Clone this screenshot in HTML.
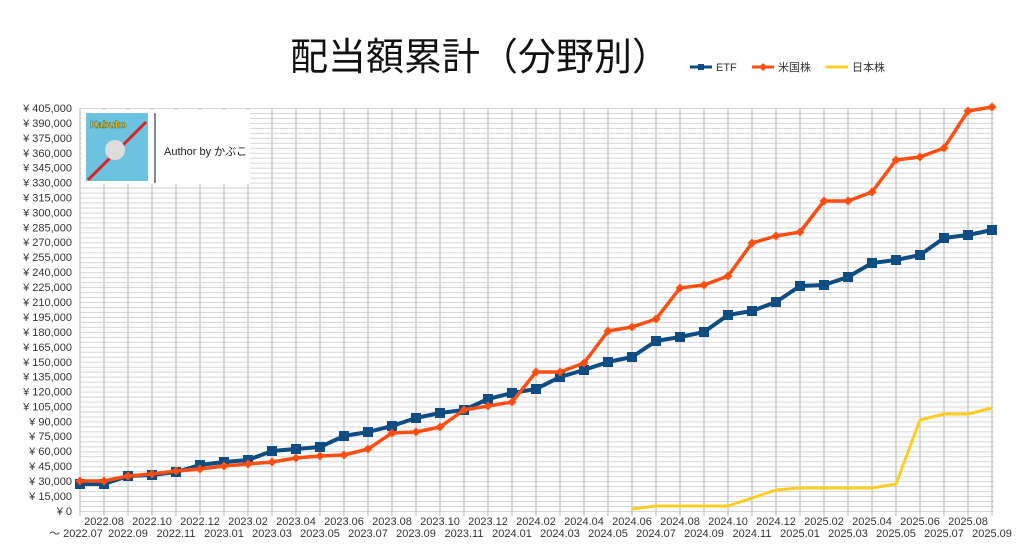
<!DOCTYPE html>
<html><head><meta charset="utf-8"><style>
body{margin:0;background:#fff;}
svg{display:block;font-family:"Liberation Sans","Noto Sans CJK JP",sans-serif;}
</style></head><body>
<svg width="1024" height="560" viewBox="0 0 1024 560">
<defs>
<pattern id="hg" patternUnits="userSpaceOnUse" x="0" y="108" width="10" height="4.975"><line x1="0" x2="10" y1="0.5" y2="0.5" stroke="#d6d6d6" stroke-width="1"/></pattern>
<pattern id="vg" patternUnits="userSpaceOnUse" x="79" y="0" width="24" height="10"><line x1="1" x2="1" y1="0" y2="10" stroke="#c4c4c4" stroke-width="1.3"/></pattern>
<marker id="sq" markerUnits="userSpaceOnUse" markerWidth="10" markerHeight="10" refX="5" refY="5"><rect width="10" height="10" fill="#0f4c81"/></marker>
<marker id="dm" markerUnits="userSpaceOnUse" markerWidth="10" markerHeight="10" refX="5" refY="5"><path d="M5 0.5 L9.5 5 L5 9.5 L0.5 5Z" fill="#ff4e12"/></marker>
</defs>
<text x="480" y="70" font-size="38" text-anchor="middle" fill="#111" font-family="'Noto Sans CJK JP',sans-serif">配当額累計（分野別）</text>
<g font-size="11" fill="#333">
<line x1="690" y1="67" x2="712" y2="67" stroke="#0f4c81" stroke-width="3"/><rect x="698" y="64" width="6" height="6" fill="#0f4c81"/><text x="716" y="71">ETF</text>
<line x1="752" y1="67" x2="774" y2="67" stroke="#ff4e12" stroke-width="3"/><path d="M763 63 L767 67 L763 71 L759 67Z" fill="#ff4e12"/><text x="778" y="71">米国株</text>
<line x1="826" y1="67" x2="848" y2="67" stroke="#ffcc22" stroke-width="3"/><text x="852" y="71">日本株</text>
</g>
<rect x="80" y="108" width="914" height="404" fill="url(#hg)"/>
<rect x="79" y="108" width="916" height="408" fill="url(#vg)"/>
<g font-size="11" fill="#333" text-anchor="end">
<text x="72" y="515">¥ 0</text><text x="72" y="500">¥ 15,000</text><text x="72" y="485">¥ 30,000</text><text x="72" y="470">¥ 45,000</text><text x="72" y="455">¥ 60,000</text><text x="72" y="440">¥ 75,000</text><text x="72" y="425.5">¥ 90,000</text><text x="72" y="410.5">¥ 105,000</text><text x="72" y="395.6">¥ 120,000</text><text x="72" y="380.7">¥ 135,000</text><text x="72" y="365.8">¥ 150,000</text><text x="72" y="350.8">¥ 165,000</text><text x="72" y="335.9">¥ 180,000</text><text x="72" y="321">¥ 195,000</text><text x="72" y="306">¥ 210,000</text><text x="72" y="291">¥ 225,000</text><text x="72" y="276">¥ 240,000</text><text x="72" y="261">¥ 255,000</text><text x="72" y="246">¥ 270,000</text><text x="72" y="231.4">¥ 285,000</text><text x="72" y="216.5">¥ 300,000</text><text x="72" y="201.6">¥ 315,000</text><text x="72" y="186.6">¥ 330,000</text><text x="72" y="171.7">¥ 345,000</text><text x="72" y="156.8">¥ 360,000</text><text x="72" y="141.9">¥ 375,000</text><text x="72" y="126.9">¥ 390,000</text><text x="72" y="112">¥ 405,000</text>
</g>
<g font-size="11" fill="#333" text-anchor="middle">
<text x="76" y="537">～ 2022.07</text><text x="104" y="525">2022.08</text><text x="128" y="537">2022.09</text><text x="152" y="525">2022.10</text><text x="176" y="537">2022.11</text><text x="200" y="525">2022.12</text><text x="224" y="537">2023.01</text><text x="248" y="525">2023.02</text><text x="272" y="537">2023.03</text><text x="296" y="525">2023.04</text><text x="320" y="537">2023.05</text><text x="344" y="525">2023.06</text><text x="368" y="537">2023.07</text><text x="392" y="525">2023.08</text><text x="416" y="537">2023.09</text><text x="440" y="525">2023.10</text><text x="464" y="537">2023.11</text><text x="488" y="525">2023.12</text><text x="512" y="537">2024.01</text><text x="536" y="525">2024.02</text><text x="560" y="537">2024.03</text><text x="584" y="525">2024.04</text><text x="608" y="537">2024.05</text><text x="632" y="525">2024.06</text><text x="656" y="537">2024.07</text><text x="680" y="525">2024.08</text><text x="704" y="537">2024.09</text><text x="728" y="525">2024.10</text><text x="752" y="537">2024.11</text><text x="776" y="525">2024.12</text><text x="800" y="537">2025.01</text><text x="824" y="525">2025.02</text><text x="848" y="537">2025.03</text><text x="872" y="525">2025.04</text><text x="896" y="537">2025.05</text><text x="920" y="525">2025.06</text><text x="944" y="537">2025.07</text><text x="968" y="525">2025.08</text><text x="992" y="537">2025.09</text>
</g>
<polyline fill="none" stroke="#ffcc22" stroke-width="3" stroke-linejoin="round" points="632,509 656,506 680,506 704,506 728,506 752,498 776,490 800,488 824,488 848,488 872,488 896,484 920,420 944,414 968,414 992,408"/>
<polyline fill="none" stroke="#0f4c81" stroke-width="4" stroke-linejoin="round" marker-start="url(#sq)" marker-mid="url(#sq)" marker-end="url(#sq)" points="80,484 104,484 128,476 152,475 176,472 200,465 224,462 248,460 272,451 296,449 320,447 344,436 368,432 392,426 416,418 440,413 464,410 488,399 512,393 536,389 560,377 584,370 608,362 632,357 656,341 680,337 704,332 728,315 752,311 776,302 800,286 824,285 848,277 872,263 896,260 920,255 944,238 968,235 992,230"/>
<polyline fill="none" stroke="#ff4e12" stroke-width="3.5" stroke-linejoin="round" marker-start="url(#dm)" marker-mid="url(#dm)" marker-end="url(#dm)" points="80,481 104,481 128,476 152,474 176,471 200,469 224,466 248,464 272,462 296,458 320,456 344,455 368,449 392,433 416,432 440,427 464,410 488,406 512,402 536,372 560,372 584,363 608,331 632,327 656,319 680,288 704,285 728,276 752,243 776,236 800,232 824,201 848,201 872,192 896,160 920,157 944,148 968,111 992,107"/>
<rect x="82" y="110" width="168" height="74" fill="#fff"/>
<rect x="86" y="113" width="62" height="68" fill="#6cc3e0"/>
<text x="90" y="128" font-size="10" font-weight="bold" fill="#f5c400" stroke="#553" stroke-width="0.4">Kabuko</text>
<line x1="88" y1="180" x2="146" y2="122" stroke="#d22" stroke-width="3"/>
<circle cx="115" cy="150" r="10" fill="#ddd"/>
<line x1="155" y1="113" x2="155" y2="183" stroke="#888" stroke-width="2"/>
<text x="164" y="155" font-size="11" fill="#222">Author by かぶこ</text>
</svg>
</body></html>
